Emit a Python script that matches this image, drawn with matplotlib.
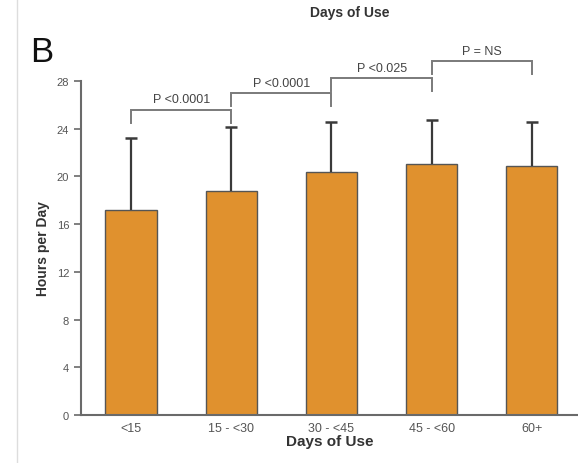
import matplotlib
matplotlib.use("Agg")
import matplotlib.pyplot as plt
from matplotlib.lines import Line2D

plt.rcParams['font.family'] = ['Liberation Sans', 'DejaVu Sans']

groups = ["<15", "15 - <30", "30 - <45", "45 - <60", "60+"]
hours_mean = [17.2, 18.8, 20.4, 21.0, 20.9]
hours_sd = [6.0, 5.3, 4.2, 3.7, 3.7]

# significance brackets between neighbouring groups
p_labels = ["P <0.0001", "P <0.0001", "P <0.025", "P = NS"]
bracket_y = [25.6, 27.0, 28.25, 29.7]

bar_color = "#E0912E"
axis_gray = "#6a6a6a"

fig = plt.figure(figsize=(5.78, 4.64), dpi=100)
ax = fig.add_axes([0.140, 0.1034, 0.860, 0.7200])

x = list(range(len(groups)))
ax.bar(x, hours_mean, width=0.51, color=bar_color, edgecolor="#555555", linewidth=1.0, zorder=2)
# upper error bars only, cap at the top
ax.errorbar(x, hours_mean, yerr=[[0] * len(x), hours_sd], fmt="none",
            ecolor="#3a3a3a", elinewidth=1.6, capsize=0, zorder=3)
tops = [m + s for m, s in zip(hours_mean, hours_sd)]
ax.plot(x, tops, linestyle="none", marker="_", markersize=9, markeredgewidth=1.8,
        color="#3a3a3a", zorder=3)

for i, (lab, h) in enumerate(zip(p_labels, bracket_y)):
    x0, x1 = i, i + 1
    ax.plot([x0, x0, x1, x1], [h - 1.1, h, h, h - 1.1], color="#7a7a7a",
            lw=1.4, clip_on=False, solid_joinstyle="miter")
    ax.text((x0 + x1) / 2, h + 0.85, lab, ha="center", va="center",
            fontsize=9, color="#444444", clip_on=False)

ax.set_xlim(-0.5, 4.46)
ax.set_ylim(0, 28)
ax.set_yticks(range(0, 29, 4))
ax.set_xticks(x)
ax.set_xticklabels(groups)
ax.tick_params(axis="both", colors=axis_gray, labelcolor="#555555", labelsize=8, width=1.2, length=5)
ax.tick_params(axis="x", length=0, pad=5, labelsize=9)
for s in ["top", "right"]:
    ax.spines[s].set_visible(False)
for s in ["left", "bottom"]:
    ax.spines[s].set_color(axis_gray)
    ax.spines[s].set_linewidth(1.5)

ax.set_ylabel("Hours per Day", fontsize=10, fontweight="bold", color="#333333", labelpad=5)
ax.set_xlabel("Days of Use", fontsize=11, fontweight="bold", color="#333333", labelpad=0)

fig.text(350 / 578, 1 - 13 / 464, "Days of Use", ha="center", va="center",
         fontsize=10, fontweight="bold", color="#333333")
fig.text(30 / 578, 1 - 53 / 464, "B", ha="left", va="center", fontsize=25, color="#111111")
fig.add_artist(Line2D([17 / 578, 17 / 578], [0, 1], transform=fig.transFigure,
                      color="#dddddd", lw=1.0))

fig.savefig("out.png", dpi=100)
